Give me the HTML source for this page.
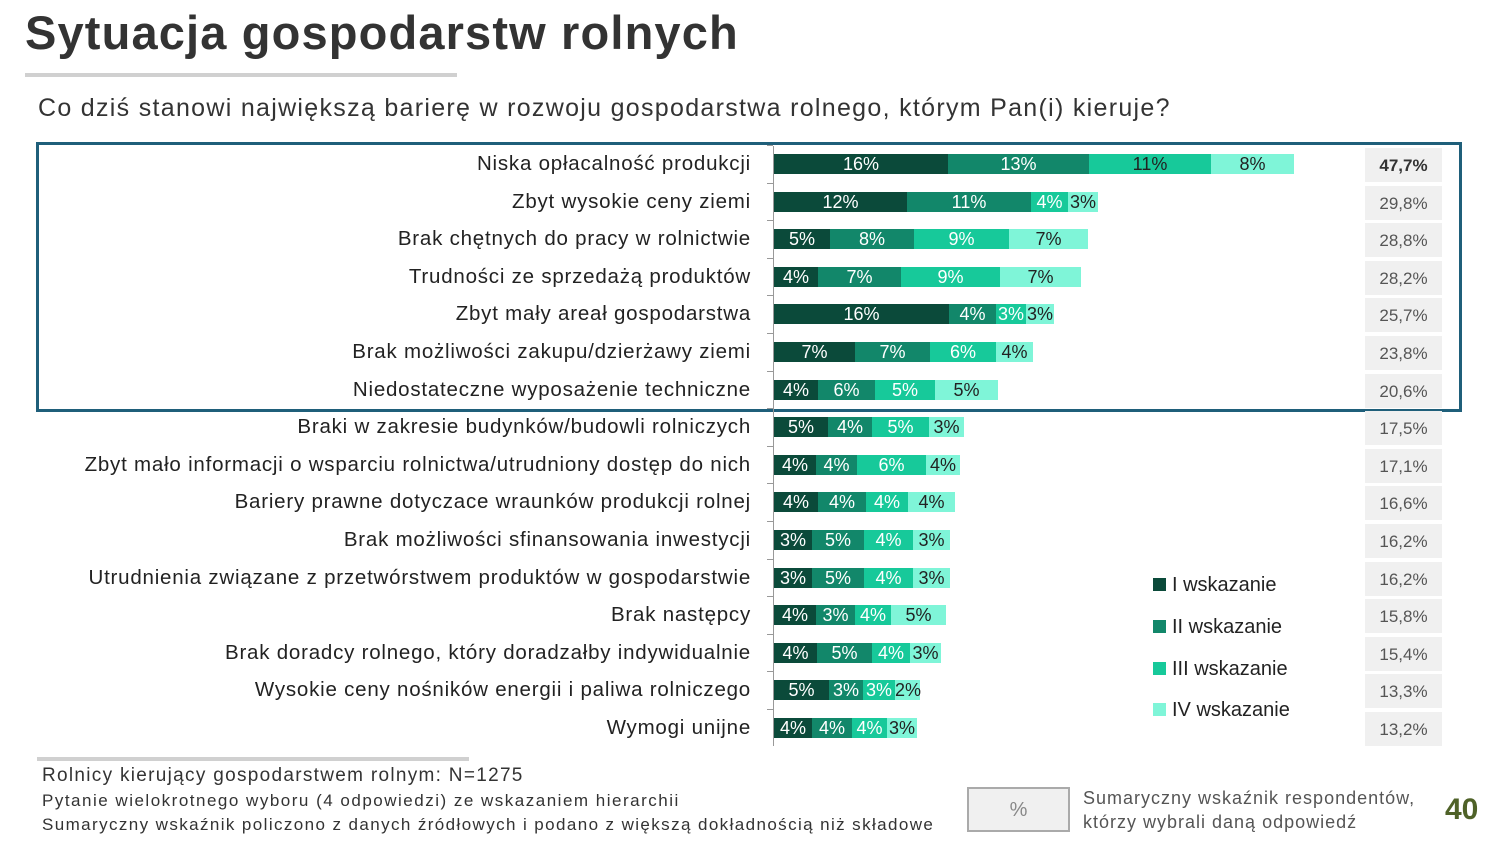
<!DOCTYPE html>
<html><head><meta charset="utf-8">
<style>
body{margin:0;width:1497px;height:863px;background:#fff;position:relative;overflow:hidden;font-family:"Liberation Sans",sans-serif;color:#222}
.a{position:absolute}
.lbl{position:absolute;right:746px;font-size:20.5px;white-space:nowrap;letter-spacing:0.78px;line-height:22px}
.seg{position:absolute;height:20px;font-size:18px;line-height:21px;text-align:center;color:#fff;white-space:nowrap;overflow:visible}
.box{position:absolute;left:1365px;width:77px;height:34px;background:#f0f0f0;font-size:17px;color:#555;text-align:center;line-height:36px}
.tick{position:absolute;left:767px;width:6px;height:1px;background:#999}
.leg{position:absolute;left:1153px;font-size:20px;line-height:22px}
.leg i{display:inline-block;width:13px;height:13px;margin-right:6px;vertical-align:0}
</style></head><body>
<div class="a" style="left:25px;top:5px;font-size:47px;font-weight:bold;color:#333;letter-spacing:1.15px">Sytuacja gospodarstw rolnych</div>
<div class="a" style="left:25px;top:73px;width:432px;height:4px;background:#d0d0d0"></div>
<div class="a" style="left:38px;top:94px;font-size:25px;color:#333;letter-spacing:1.3px">Co dziś stanowi największą barierę w rozwoju gospodarstwa rolnego, którym Pan(i) kieruje?</div>
<div class="a" style="left:36px;top:142px;width:1420px;height:264px;border:3px solid #1f5f7a"></div>
<div class="a" style="left:773px;top:146px;width:1px;height:600px;background:#999"></div>
<div id="c"></div>
<div class="leg" style="top:574px"><i style="background:#0b4a3a"></i>I wskazanie</div>
<div class="leg" style="top:616px"><i style="background:#12876a"></i>II wskazanie</div>
<div class="leg" style="top:658px"><i style="background:#17c99a"></i>III wskazanie</div>
<div class="leg" style="top:699px"><i style="background:#7ff5d8"></i>IV wskazanie</div>
<div class="a" style="left:37px;top:757px;width:432px;height:4px;background:#d0d0d0"></div>
<div class="a" style="left:42px;top:765px;font-size:19px;color:#333;letter-spacing:1.3px">Rolnicy kierujący gospodarstwem rolnym: N=1275</div>
<div class="a" style="left:42px;top:791px;font-size:17px;color:#333;letter-spacing:1.5px">Pytanie wielokrotnego wyboru (4 odpowiedzi) ze wskazaniem hierarchii</div>
<div class="a" style="left:42px;top:815px;font-size:17px;color:#333;letter-spacing:1.4px">Sumaryczny wskaźnik policzono z danych źródłowych i podano z większą dokładnością niż składowe</div>
<div class="a" style="left:967px;top:787px;width:99px;height:41px;border:2px solid #aaa;background:#f0f0f0;text-align:center;line-height:42px;font-size:20px;color:#888">%</div>
<div class="a" style="left:1083px;top:786px;font-size:18px;color:#555;line-height:24px;letter-spacing:1px">Sumaryczny wskaźnik respondentów,<br>którzy wybrali daną odpowiedź</div>
<div class="a" style="left:1445px;top:793px;font-size:30px;font-weight:bold;color:#4f6228">40</div>
<script>
var cols=["#0b4a3a","#12876a","#17c99a","#7ff5d8"];
var rows=[
["Niska opłacalność produkcji",[948,1089,1211,1294],["16%","13%","11%","8%"],"47,7%"],
["Zbyt wysokie ceny ziemi",[907,1031,1068,1098],["12%","11%","4%","3%"],"29,8%"],
["Brak chętnych do pracy w rolnictwie",[830,914,1009,1088],["5%","8%","9%","7%"],"28,8%"],
["Trudności ze sprzedażą produktów",[818,901,1000,1081],["4%","7%","9%","7%"],"28,2%"],
["Zbyt mały areał gospodarstwa",[949,996,1026,1054],["16%","4%","3%","3%"],"25,7%"],
["Brak możliwości zakupu/dzierżawy ziemi",[855,930,996,1033],["7%","7%","6%","4%"],"23,8%"],
["Niedostateczne wyposażenie techniczne",[818,875,935,998],["4%","6%","5%","5%"],"20,6%"],
["Braki w zakresie budynków/budowli rolniczych",[828,872,929,964],["5%","4%","5%","3%"],"17,5%"],
["Zbyt mało informacji o wsparciu rolnictwa/utrudniony dostęp do nich",[816,857,926,960],["4%","4%","6%","4%"],"17,1%"],
["Bariery prawne dotyczace wraunków produkcji rolnej",[818,866,908,955],["4%","4%","4%","4%"],"16,6%"],
["Brak możliwości sfinansowania inwestycji",[812,864,913,950],["3%","5%","4%","3%"],"16,2%"],
["Utrudnienia związane z przetwórstwem produktów w gospodarstwie",[812,864,913,950],["3%","5%","4%","3%"],"16,2%"],
["Brak następcy",[816,855,891,946],["4%","3%","4%","5%"],"15,8%"],
["Brak doradcy rolnego, który doradzałby indywidualnie",[817,872,910,941],["4%","5%","4%","3%"],"15,4%"],
["Wysokie ceny nośników energii i paliwa rolniczego",[829,863,895,920],["5%","3%","3%","2%"],"13,3%"],
["Wymogi unijne",[812,852,887,917],["4%","4%","4%","3%"],"13,2%"]];
var h="";
rows.forEach(function(r,i){
 var cy=164+i*37.6;
 h+='<div class="lbl" style="top:'+(cy-11)+'px">'+r[0]+'</div>';
 h+='<div class="tick" style="top:'+(cy-19)+'px"></div>';
 var x=774;
 for(var k=0;k<4;k++){
  var w=r[1][k]-x;
  var tc=(k==3||(i==0&&k==2))?"#222":"#fff";
  h+='<div class="seg" style="left:'+x+'px;top:'+(cy-10)+'px;width:'+w+'px;background:'+cols[k]+';color:'+tc+'">'+r[2][k]+'</div>';
  x=r[1][k];
 }
 h+='<div class="box" style="top:'+(cy-16)+'px;'+(i==0?'font-weight:bold;color:#333':'')+'">'+r[3]+'</div>';
});
document.getElementById("c").innerHTML=h;
</script>
</body></html>
